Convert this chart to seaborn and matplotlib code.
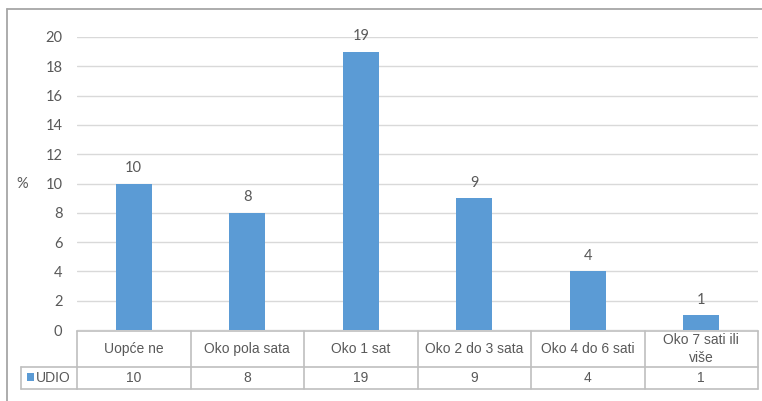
import matplotlib
matplotlib.use("Agg")
import matplotlib.pyplot as plt
import seaborn as sns
import pandas as pd
from matplotlib.lines import Line2D
from matplotlib.patches import Rectangle
import matplotlib.transforms as mtransforms

categories = ["Uopće ne", "Oko pola sata", "Oko 1 sat", "Oko 2 do 3 sata", "Oko 4 do 6 sati", "Oko 7 sati ili\nviše"]
values = [10, 8, 19, 9, 4, 1]
series_name = "UDIO"
y_ticks = [0, 2, 4, 6, 8, 10, 12, 14, 16, 18, 20]
y_label = "%"

sns.set_style("white")
plt.rcParams['font.family'] = ['Liberation Sans', 'DejaVu Sans']

BAR = "#5B9BD5"
TXT = "#595959"
GRID = "#D9D9D9"
TBL = "#BFBFBF"

W, H = 762, 401
fig = plt.figure(figsize=(W / 100, H / 100), dpi=100)

def fx(px):
    return px / W

def fy(py):
    return 1 - py / H

ax = fig.add_axes([fx(77), fy(330), fx(758) - fx(77), fy(37) - fy(330)])
df = pd.DataFrame({"cat": categories, "val": values})
sns.barplot(data=df, x="cat", y="val", color=BAR, width=0.32, ax=ax, saturation=1, linewidth=0)

ax.set_xlim(-0.5, len(categories) - 0.5)
ax.set_ylim(0, 20)
ax.set_yticks(y_ticks)
ax.set_yticklabels([str(t) for t in y_ticks], fontfamily="Lato", fontsize=10.5, color=TXT)
ax.tick_params(axis="y", length=0, pad=10.5)
ax.set_xticks([])
ax.set_xlabel("")
ax.set_ylabel("")
for s in ax.spines.values():
    s.set_visible(False)
ax.grid(axis="y", color=GRID, linewidth=1)
ax.set_axisbelow(True)

for c in ax.containers:
    ax.bar_label(c, labels=[str(v) for v in values], padding=6, fontfamily="Lato", fontsize=10.5, color=TXT)

# % label
fig.text(fx(22), fy(184), y_label, ha="center", va="center", fontsize=10.5, color=TXT, fontfamily="Lato")

# outer border
fig.add_artist(Line2D([fx(7), fx(7)], [fy(9), 0], color="#A6A6A6", lw=1.3, transform=fig.transFigure))
fig.add_artist(Line2D([fx(7), 1], [fy(9), fy(9)], color="#A6A6A6", lw=1.3, transform=fig.transFigure))

# data table
blend = mtransforms.blended_transform_factory(ax.transData, fig.transFigure)
n = len(categories)
y_top, y_mid, y_bot = fy(331), fy(367), fy(389)
x0, x1 = -0.5, n - 0.5
ax.add_line(Line2D([x0, x1], [y_top, y_top], color=TBL, lw=1.2, transform=blend, clip_on=False))
ax.add_line(Line2D([x1, x1], [y_top, y_bot], color=TBL, lw=1.2, transform=blend, clip_on=False))
for i in range(n):
    ax.add_line(Line2D([i - 0.5, i - 0.5], [y_top, y_bot], color=TBL, lw=1.2, transform=blend, clip_on=False))
fig.add_artist(Line2D([fx(21), fx(21)], [y_mid, y_bot], color=TBL, lw=1.2, transform=fig.transFigure))
fig.add_artist(Line2D([fx(21), fx(77)], [y_mid, y_mid], color=TBL, lw=1.2, transform=fig.transFigure))
fig.add_artist(Line2D([fx(21), fx(77)], [y_bot, y_bot], color=TBL, lw=1.2, transform=fig.transFigure))
ax.add_line(Line2D([x0, x1], [y_mid, y_mid], color=TBL, lw=1.2, transform=blend, clip_on=False))
ax.add_line(Line2D([x0, x1], [y_bot, y_bot], color=TBL, lw=1.2, transform=blend, clip_on=False))

for i, (c, v) in enumerate(zip(categories, values)):
    ax.text(i, (y_top + y_mid) / 2, c, ha="center", va="center", fontsize=10, color=TXT,
            transform=blend, linespacing=1.35, clip_on=False)
    ax.text(i, (y_mid + y_bot) / 2, str(v), ha="center", va="center", fontsize=10, color=TXT,
            transform=blend, clip_on=False)

# legend key
fig.add_artist(Rectangle((fx(27), fy(381)), fx(7), fy(373) - fy(381), color=BAR, lw=0, transform=fig.transFigure))
fig.text(fx(36), (y_mid + y_bot) / 2, series_name, ha="left", va="center", fontsize=10, color=TXT)

fig.savefig("out.png", dpi=100)
